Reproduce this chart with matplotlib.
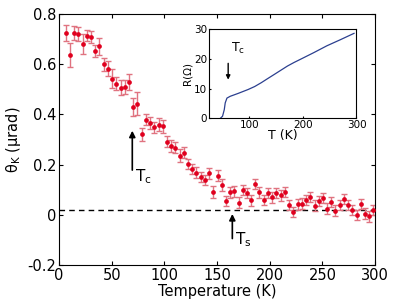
import matplotlib
matplotlib.use("Agg")
import matplotlib.pyplot as plt

# Kerr rotation data
temperature = [6.6, 10.1, 14.6, 18.4, 22.5, 26.6, 30.1, 34.2, 38.3, 42.7,
               46.2, 50.3, 54.4, 58.6, 62.3, 66.5, 70.5, 74.3, 78.5, 82.3,
               86.7, 90.5, 94.6, 98.4, 102.5, 106.3, 110.1, 114.6, 118.4, 122.5,
               126.3, 130.4, 134.6, 138.4, 142.5, 146.5, 150.6, 154.5, 158.5, 162.6,
               166.4, 170.6, 174.4, 178.5, 182.3, 186.4, 190.2, 194.4, 198.5, 202.3,
               206.4, 210.6, 214.4, 218.5, 222.5, 226.7, 230.4, 234.8, 238.6, 242.7,
               246.5, 250.3, 254.4, 258.5, 262.3, 266.5, 270.3, 274.4, 278.4, 282.3,
               286.5, 290.6, 294.3, 298.4]
theta_k = [0.725, 0.636, 0.724, 0.722, 0.682, 0.714, 0.709, 0.653, 0.672, 0.600,
           0.583, 0.543, 0.523, 0.506, 0.510, 0.531, 0.430, 0.442, 0.321, 0.378,
           0.365, 0.348, 0.359, 0.352, 0.291, 0.276, 0.268, 0.236, 0.248, 0.203,
           0.181, 0.167, 0.151, 0.139, 0.166, 0.090, 0.155, 0.120, 0.053, 0.090,
           0.094, 0.048, 0.097, 0.088, 0.057, 0.121, 0.089, 0.057, 0.085, 0.069,
           0.086, 0.077, 0.091, 0.040, 0.011, 0.041, 0.043, 0.057, 0.069, 0.035,
           0.056, 0.065, 0.024, 0.049, 0.015, 0.040, 0.064, 0.037, 0.020, -0.001,
           0.043, 0.003, -0.007, 0.020]
theta_err = [0.033, 0.048, 0.027, 0.028, 0.040, 0.023, 0.025, 0.022, 0.033, 0.025,
             0.031, 0.037, 0.025, 0.030, 0.027, 0.032, 0.037, 0.046, 0.025, 0.022,
             0.024, 0.022, 0.025, 0.026, 0.022, 0.024, 0.022, 0.026, 0.022, 0.020,
             0.020, 0.022, 0.020, 0.020, 0.022, 0.024, 0.022, 0.024, 0.020, 0.022,
             0.022, 0.022, 0.020, 0.020, 0.022, 0.020, 0.022, 0.020, 0.020, 0.022,
             0.020, 0.022, 0.020, 0.020, 0.020, 0.022, 0.022, 0.020, 0.020, 0.022,
             0.020, 0.020, 0.022, 0.020, 0.022, 0.020, 0.020, 0.020, 0.020, 0.020,
             0.020, 0.022, 0.022, 0.020]
baseline = 0.02

# Inset resistance curve
res_T = [45.9, 50.0, 53.2, 55.0, 58.2, 64.2, 79.4, 97.8, 110.0, 122.4, 134.5,
         146.8, 159.0, 171.2, 183.5, 195.8, 208.0, 220.2, 244.6, 269.2, 295.4]
res_R = [0.0, 0.7, 2.9, 5.2, 6.8, 7.4, 8.4, 9.7, 10.7, 12.0, 13.4,
         14.8, 16.2, 17.6, 18.8, 19.9, 21.0, 22.1, 24.4, 26.4, 28.6]

xticks = [0, 50, 100, 150, 200, 250, 300]
yticks = [-0.2, 0, 0.2, 0.4, 0.6, 0.8]
yticklabels = ["-0.2", "0", "0.2", "0.4", "0.6", "0.8"]

plt.rcParams['font.family'] = ['DejaVu Sans']

fig = plt.figure(figsize=(4.15, 3.01), dpi=100)
ax = fig.add_axes([0.142, 0.120, 0.762, 0.833])

ax.errorbar(temperature, theta_k, yerr=theta_err, fmt='none',
            ecolor='#e07380', elinewidth=1.0, capsize=2.5, capthick=1.0, zorder=2)
ax.plot(temperature, theta_k, 'o', color='#e0001e', markersize=3.4,
        markeredgewidth=0, zorder=3)
ax.axhline(baseline, color='black', linestyle=(0, (4, 3)), linewidth=1.0, zorder=1)

ax.set_xlim(0, 300)
ax.set_ylim(-0.2, 0.8)
ax.set_xticks(xticks)
ax.set_yticks(yticks)
ax.set_yticklabels(yticklabels)
ax.tick_params(direction='in', top=True, right=True, labelsize=10.5, length=3,
               pad=2)
ax.set_xlabel('Temperature (K)', fontsize=10.5, labelpad=1)
ax.set_ylabel(r'θ$_\mathrm{K}$ (μrad)', fontsize=10.5, labelpad=3)

# Arrows
ax.annotate('', xy=(69.6, 0.335), xytext=(69.6, 0.178),
            arrowprops=dict(arrowstyle='-|>', color='black', lw=1.2,
                            mutation_scale=9, shrinkA=0, shrinkB=0))
ax.text(72.5, 0.19, r'T$_\mathrm{c}$', fontsize=11, ha='left', va='top')
ax.annotate('', xy=(164.5, 0.003), xytext=(164.5, -0.095),
            arrowprops=dict(arrowstyle='-|>', color='black', lw=1.2,
                            mutation_scale=9, shrinkA=0, shrinkB=0))
ax.text(167.5, -0.062, r'T$_\mathrm{s}$', fontsize=11, ha='left', va='top')

# Inset
ins = fig.add_axes([0.504, 0.607, 0.355, 0.296])
ins.plot(res_T, res_R, color='#2b3f8f', linewidth=0.9)
ins.set_xlim(25, 300)
ins.set_ylim(0, 30)
ins.set_xticks([100, 200, 300])
ins.set_yticks([0, 10, 20, 30])
ins.tick_params(direction='in', labelsize=7.5, length=1.5, pad=1.5)
ins.set_xlabel('T (K)', fontsize=9, labelpad=-1)
ins.set_ylabel('R(Ω)', fontsize=7.5, labelpad=1)
ins.annotate('', xy=(60.5, 13.0), xytext=(60.5, 18.5),
             arrowprops=dict(arrowstyle='-|>', color='black', lw=1.0,
                             mutation_scale=6, shrinkA=0, shrinkB=0))
ins.text(65, 23.5, r'T$_\mathrm{c}$', fontsize=9, ha='left', va='center')

fig.savefig('out.png', dpi=100)
